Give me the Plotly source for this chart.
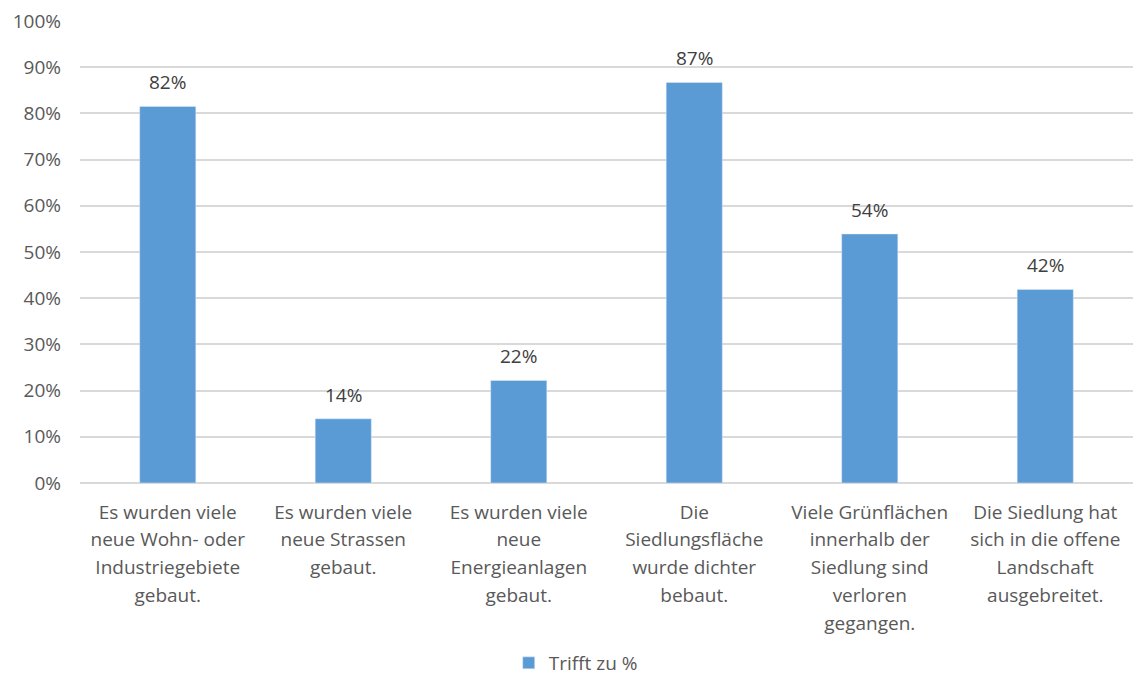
import plotly.graph_objects as go

categories = [
    "Es wurden viele<br>neue Wohn- oder<br>Industriegebiete<br>gebaut.",
    "Es wurden viele<br>neue Strassen<br>gebaut.",
    "Es wurden viele<br>neue<br>Energieanlagen<br>gebaut.",
    "Die<br>Siedlungsfläche<br>wurde dichter<br>bebaut.",
    "Viele Grünflächen<br>innerhalb der<br>Siedlung sind<br>verloren<br>gegangen.",
    "Die Siedlung hat<br>sich in die offene<br>Landschaft<br>ausgebreitet.",
]
values = [81.5, 13.9, 22.2, 86.7, 53.9, 41.9]
series_name = "Trifft zu %"
tick_vals = [0, 10, 20, 30, 40, 50, 60, 70, 80, 90, 100]
tick_text = [f"{v}%" for v in tick_vals]

FONT = "Open Sans"
GREY = "#595959"
FS = 19

def wrap(lbl):
    return "<br>".join(f'<span style="font-size:{FS}px">{p}</span>' for p in lbl.split("<br>"))

xs = list(range(len(categories)))

fig = go.Figure()
fig.add_trace(go.Bar(
    x=xs,
    y=values,
    name=series_name,
    marker_color="#5B9BD5",
    showlegend=True,
))

for x, v in zip(xs, values):
    fig.add_annotation(
        x=x, y=v, xref="x", yref="y",
        text=f"{round(v)}%", showarrow=False,
        yanchor="bottom", yshift=9,
        font=dict(family=FONT, size=FS, color="#404040"),
    )

fig.update_layout(
    width=1133, height=682,
    margin=dict(l=80, r=0, t=20, b=199, autoexpand=False),
    paper_bgcolor="white", plot_bgcolor="white",
    bargap=0.68,
    font=dict(family=FONT, color=GREY, size=FS),
    legend=dict(orientation="h", xref="container", yref="container",
                x=0.449, xanchor="left", y=0.0, yanchor="bottom",
                font=dict(family=FONT, size=FS, color=GREY), itemwidth=30),
    xaxis=dict(
        tickmode="array",
        tickvals=xs,
        ticktext=[wrap(c) for c in categories],
        tickfont=dict(family=FONT, size=21.5, color=GREY),
        showgrid=False, zeroline=False, showline=False, ticks="",
        range=[-0.5, len(categories) - 0.5],
        ticklabelstandoff=13, automargin=False,
    ),
    yaxis=dict(
        range=[0, 100.2],
        tickmode="array", tickvals=tick_vals, ticktext=tick_text,
        tickfont=dict(family=FONT, size=FS, color=GREY),
        showgrid=True, gridcolor="#D9D9D9", gridwidth=1.5,
        zeroline=True, zerolinecolor="#D9D9D9", zerolinewidth=1.5,
        showline=False, ticks="", ticklabelstandoff=18, automargin=False,
    ),
)

fig.write_html("out.html", config={"displayModeBar": False},
               post_script="document.body.style.margin='0';")
